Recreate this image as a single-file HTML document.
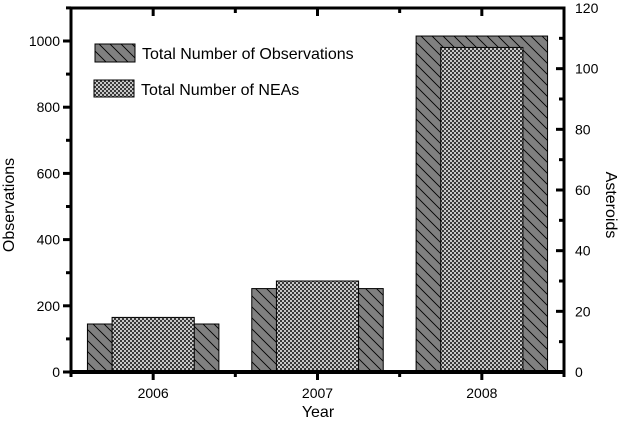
<!DOCTYPE html>
<html><head><meta charset="utf-8"><style>
html,body{margin:0;padding:0;background:#fff}
svg{display:block;font-family:"Liberation Sans",Arial,sans-serif}
</style></head><body>
<svg id="chart" width="623" height="425" viewBox="0 0 623 425">
<defs>
<pattern id="diag" patternUnits="userSpaceOnUse" width="11" height="11">
<rect width="11" height="11" fill="#808080"/>
<path d="M-2,-2 L13,13 M-2,9 L2,13 M9,-2 L13,2" stroke="#000" stroke-width="0.9"/>
</pattern>
<pattern id="check" patternUnits="userSpaceOnUse" width="4" height="4">
<rect width="4" height="4" fill="#c8c8c8"/>
<rect width="2" height="2" fill="#3a3a3a"/>
<rect x="2" y="2" width="2" height="2" fill="#3a3a3a"/>
</pattern>
</defs>
<g id="bars"></g>
<g id="axes"></g>
<g>
<rect x="95" y="44" width="40" height="18" fill="url(#diag)" stroke="#000"/>
<text x="142" y="59" font-size="16">Total Number of Observations</text>
<rect x="94" y="80" width="40" height="17" fill="url(#check)" stroke="#000"/>
<text x="141" y="95" font-size="16">Total Number of NEAs</text>
</g>
<text x="318" y="417" font-size="16" text-anchor="middle">Year</text>
<text transform="translate(14,205) rotate(-90)" font-size="16" text-anchor="middle">Observations</text>
<text transform="translate(606,205) rotate(90)" font-size="16" text-anchor="middle">Asteroids</text>
</svg>
<script>
const categories = ["2006","2007","2008"];
const observations = [145, 252, 1015];
const neas = [18, 30, 107];
const leftTicks = [0,200,400,600,800,1000];
const rightTicks = [0,20,40,60,80,100,120];

const NS="http://www.w3.org/2000/svg";
const X0=71, X1=564, YT=8, YB=372;
const xs = i => X0 + (i+0.5)*(X1-X0)/categories.length;
const unit = (X1-X0)/categories.length;
const yL = v => YB - v*(YB-41)/1000;
const yR = v => YB - v*(YB-YT)/120;
function mk(tag, attrs, parent){const e=document.createElementNS(NS,tag);for(const k in attrs)e.setAttribute(k,attrs[k]);parent.appendChild(e);return e;}
const bars=document.getElementById('bars'), axes=document.getElementById('axes');
categories.forEach((c,i)=>{
  const w1=unit*0.8, w2=unit*0.5;
  let r=mk('rect',{x:xs(i)-w1/2,y:yL(observations[i]),width:w1,height:YB-yL(observations[i]),fill:'url(#diag)',stroke:'#000','stroke-width':1},bars);
  
  
  r=mk('rect',{x:xs(i)-w2/2,y:yR(neas[i]),width:w2,height:YB-yR(neas[i]),fill:'url(#check)',stroke:'#000','stroke-width':1},bars);
  
  
  let t=mk('text',{x:xs(i),y:YB+26,'font-size':14,'text-anchor':'middle'},axes);
  t.textContent=c;
  
  
  mk('line',{x1:xs(i),x2:xs(i),y1:YB,y2:YB+8,stroke:'#000','stroke-width':3},axes);
  mk('line',{x1:xs(i),x2:xs(i),y1:YT,y2:YT+8,stroke:'#000','stroke-width':3},axes);
});
for(let i=0;i<=categories.length;i++){
  const x=X0+i*unit;
  mk('line',{x1:x,x2:x,y1:YB,y2:YB+5,stroke:'#000','stroke-width':3},axes);
  mk('line',{x1:x,x2:x,y1:YT,y2:YT+5,stroke:'#000','stroke-width':3},axes);
}
leftTicks.forEach(v=>{
  mk('line',{x1:X0-8,x2:X0,y1:yL(v),y2:yL(v),stroke:'#000','stroke-width':3},axes);
  mk('line',{x1:X0-5,x2:X0,y1:yL(v+100),y2:yL(v+100),stroke:'#000','stroke-width':3},axes);
  const t=mk('text',{x:X0-11,y:yL(v)+5,'font-size':14,'text-anchor':'end'},axes);
  t.textContent=v;
  
  
});
rightTicks.forEach(v=>{
  mk('line',{x1:X1-8,x2:X1,y1:yR(v),y2:yR(v),stroke:'#000','stroke-width':3},axes);
  if(v<120) mk('line',{x1:X1-5,x2:X1,y1:yR(v+10),y2:yR(v+10),stroke:'#000','stroke-width':3},axes);
  const t=mk('text',{x:X1+11,y:yR(v)+5,'font-size':14},axes);
  t.textContent=v;
  
  
});
let f=mk('rect',{x:X0,y:YT,width:X1-X0,height:YB-YT,fill:'none',stroke:'#000','stroke-width':3},axes);


mk('line',{x1:X0-1,x2:X1+1,y1:YB,y2:YB,stroke:'#000','stroke-width':4},axes);
</script>
</body></html>
